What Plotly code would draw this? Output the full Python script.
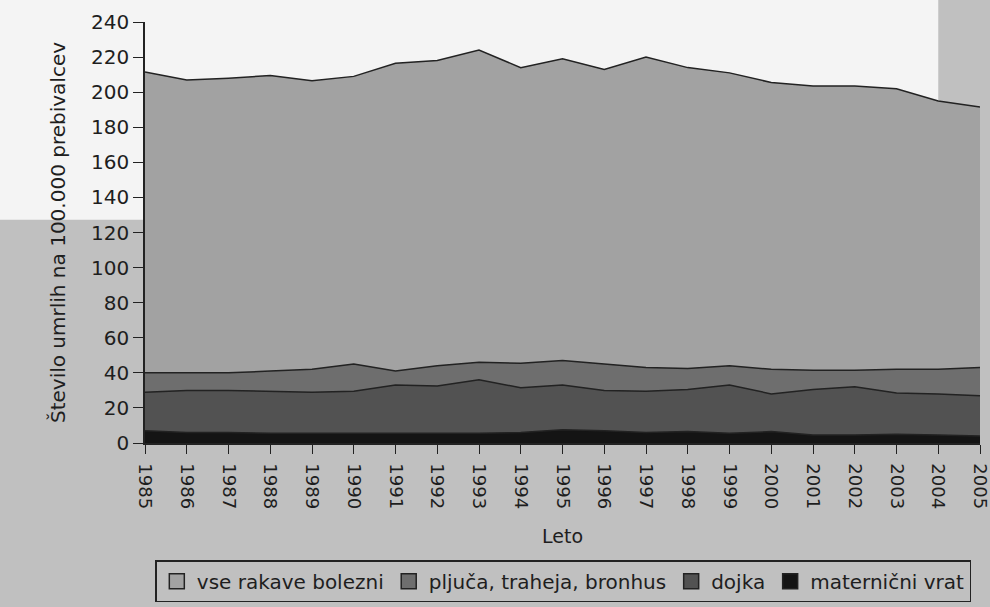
import plotly.graph_objects as go

# ==========================================
# DATA (deaths per 100,000)
# ==========================================
YEARS = list(range(1985, 2006))

ALL_CANCER = [211.5, 207, 208, 209.5, 206.5, 209, 216.5, 218, 224, 214, 219,
              213, 220, 214, 211, 205.5, 203.5, 203.5, 202, 195, 191.5]
LUNG = [40, 40, 40, 41, 42, 45, 41, 44, 46, 45.5, 47,
        45, 43, 42.5, 44, 42, 41.5, 41.5, 42, 42, 43]
BREAST = [29, 30, 30, 29.5, 29, 29.5, 33, 32.5, 36, 31.5, 33,
          30, 29.5, 30.5, 33, 28, 30.5, 32, 28.5, 28, 27]
CERVIX = [7, 6, 6, 5.5, 5.5, 5.5, 5.5, 5.5, 5.5, 6, 7.5,
          7, 6, 6.5, 5.5, 6.5, 4.5, 4.5, 5, 4.5, 4]

SERIES = [
    ("vse rakave bolezni", ALL_CANCER, "#a2a2a2"),
    ("pljuča, traheja, bronhus", LUNG, "#6e6e6e"),
    ("dojka", BREAST, "#525252"),
    ("maternični vrat", CERVIX, "#141414"),
]

FONT = "DejaVu Sans"
TEXT = "#1e1e1e"
EDGE = "#222222"


def build_figure():
    fig = go.Figure()
    for name, values, color in SERIES:
        # the area itself (legend handled by a square patch below)
        fig.add_trace(go.Scatter(
            x=YEARS,
            y=values,
            name=name,
            mode="lines",
            fill="tozeroy",
            fillcolor=color,
            line=dict(color=EDGE, width=1.5),
            showlegend=False,
        ))
    for name, values, color in SERIES:
        # square legend patch, like the printed chart
        fig.add_trace(go.Scatter(
            x=[None],
            y=[None],
            name=name,
            mode="markers",
            marker=dict(symbol="square", size=15, color=color,
                        line=dict(color=EDGE, width=1.5)),
        ))

    # white page area behind the upper part of the photo
    fig.add_shape(type="rect", xref="paper", yref="paper",
                  x0=-0.2, x1=0.95, y0=0.53, y1=1.06,
                  fillcolor="#f4f4f4", line=dict(width=0), layer="below")

    fig.update_layout(
        width=990,
        height=607,
        margin=dict(l=145, r=10, t=22, b=164),
        paper_bgcolor="#c0c0c0",
        plot_bgcolor="rgba(0,0,0,0)",
        font=dict(family=FONT, size=18, color=TEXT),
        showlegend=True,
        legend=dict(
            orientation="h",
            xref="container", yref="container",
            x=0.569, xanchor="center",
            y=0.008, yanchor="bottom",
            bgcolor="rgba(0,0,0,0)",
            bordercolor=EDGE,
            borderwidth=1.5,
            font=dict(size=20),
            traceorder="normal",
            itemwidth=30,
            tracegroupgap=0,
        ),
    )
    fig.update_xaxes(
        range=[1985, 2005],
        tickmode="array",
        tickvals=YEARS,
        ticktext=[str(y) for y in YEARS],
        tickangle=90,
        ticks="outside",
        ticklen=9,
        tickcolor=EDGE,
        ticklabelstandoff=6,
        ticklabeloverflow="allow",
        showline=True,
        linecolor=EDGE,
        linewidth=1.5,
        showgrid=False,
        zeroline=False,
        automargin=False,
        tickfont=dict(size=18),
        title=dict(text="Leto", font=dict(size=19), standoff=22),
    )
    fig.update_yaxes(
        range=[0, 240],
        dtick=20,
        ticks="outside",
        ticklen=10,
        tickcolor=EDGE,
        showline=True,
        linecolor=EDGE,
        linewidth=1.5,
        showgrid=False,
        zeroline=False,
        automargin=False,
        tickfont=dict(size=20),
        title=dict(text="Število umrlih na 100.000 prebivalcev",
                   font=dict(size=20), standoff=20),
    )
    return fig


def main():
    fig = build_figure()
    # page margin off so the 990px figure fits the window exactly
    fig.write_html("out.html", config={"displayModeBar": False},
                   post_script="document.body.style.margin='0';")


if __name__ == "__main__":
    main()
